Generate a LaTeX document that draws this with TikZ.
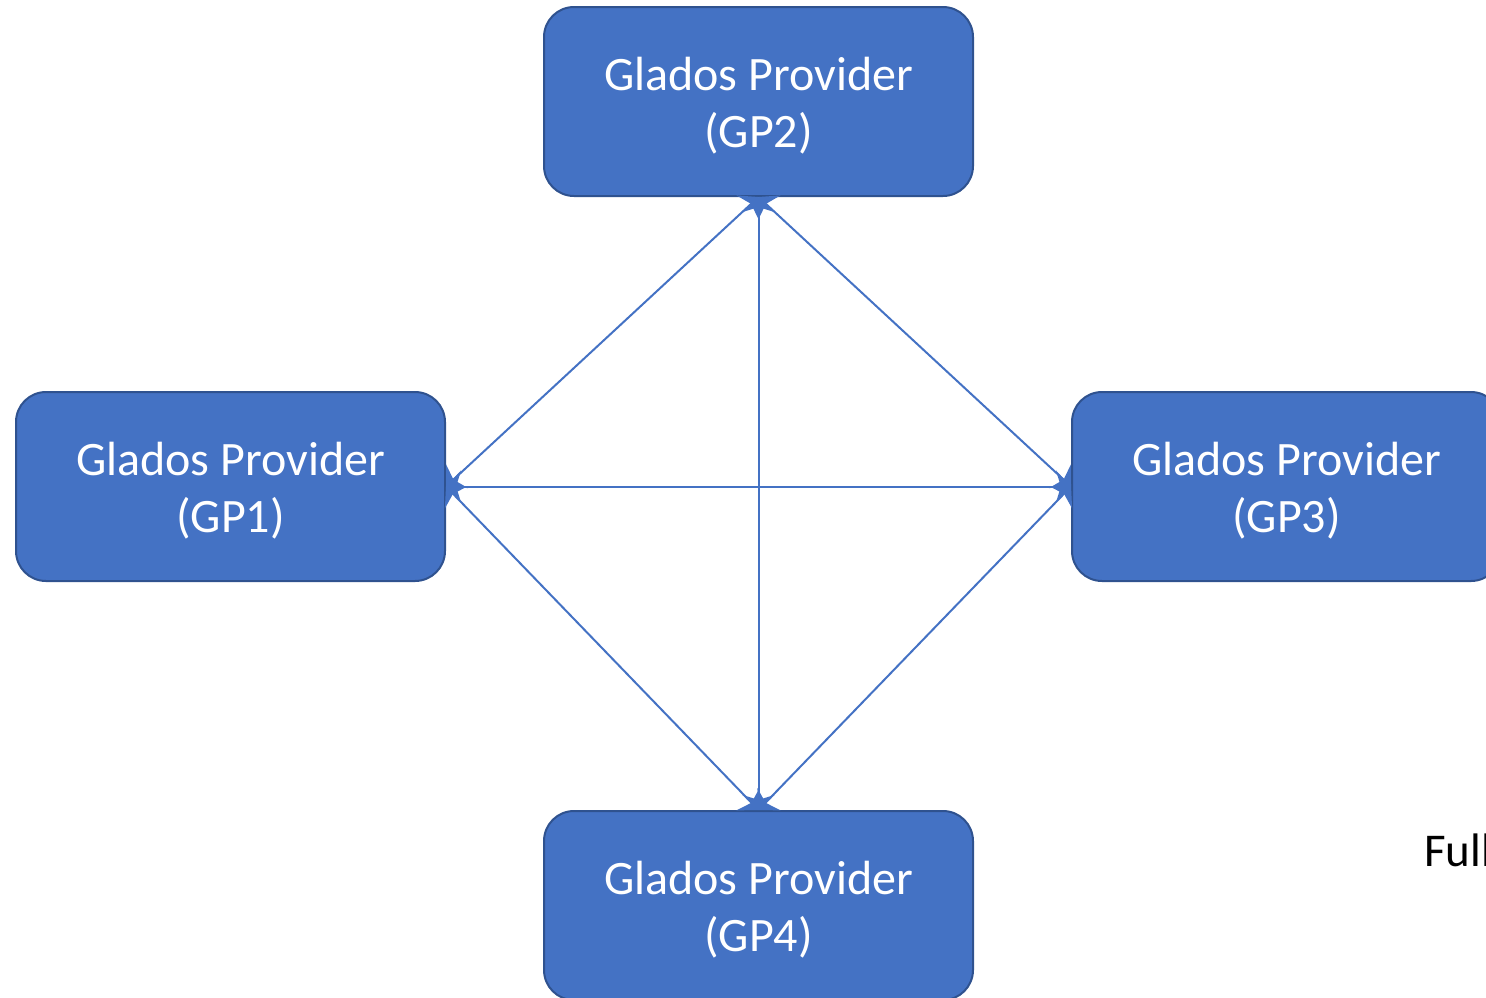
\documentclass[tikz,border=0pt]{standalone}
\usepackage{fontspec}
\setmainfont{Carlito}
\usetikzlibrary{arrows.meta}
\definecolor{boxfill}{HTML}{4472C4}
\definecolor{boxline}{HTML}{2F528F}
\tikzset{
  gpbox/.style={draw=boxline, line width=2pt, fill=boxfill, rounded corners=30pt,
    minimum width=429pt, minimum height=189pt, inner sep=0pt},
  gptext/.style={text=white, align=center, font=\fontsize{48}{57}\selectfont, inner sep=0pt},
  link/.style={draw=boxfill, line width=2pt, {Stealth[length=15pt,width=32pt]}-{Stealth[length=15pt,width=32pt]}}
}
\begin{document}
\begin{tikzpicture}[x=1pt,y=-1pt]
\useasboundingbox (0,0) rectangle (1486,997);
\node[gpbox] (gp2) at (758.5,101.5) {};
\node[gpbox] (gp1) at (230.5,486.5) {};
\node[gpbox] (gp3) at (1286.5,486.5) {};
\node[gpbox] (gp4) at (758.5,905.5) {};
\node[gptext] (t2) at ([yshift=-4pt]gp2.center) {Glados Provider\\(GP2)};
\node[gptext] (t1) at ([yshift=-4pt]gp1.center) {Glados Provider\\(GP1)};
\node[gptext] (t3) at ([yshift=-4pt]gp3.center) {Glados Provider\\(GP3)};
\node[gptext] (t4) at ([yshift=-4pt]gp4.center) {Glados Provider\\(GP4)};
\draw[link] (gp2.south) -- (gp4.north);
\draw[link] (gp1.east) -- (gp3.west);
\draw[link] (gp2.south) -- (gp1.east);
\draw[link] (gp2.south) -- (gp3.west);
\draw[link] (gp4.north) -- (gp1.east);
\draw[link] (gp4.north) -- (gp3.west);
\node[anchor=base west, inner sep=0pt, font=\fontsize{47}{50}\selectfont] (full) at (1424,866) {Full};
\end{tikzpicture}
\end{document}
